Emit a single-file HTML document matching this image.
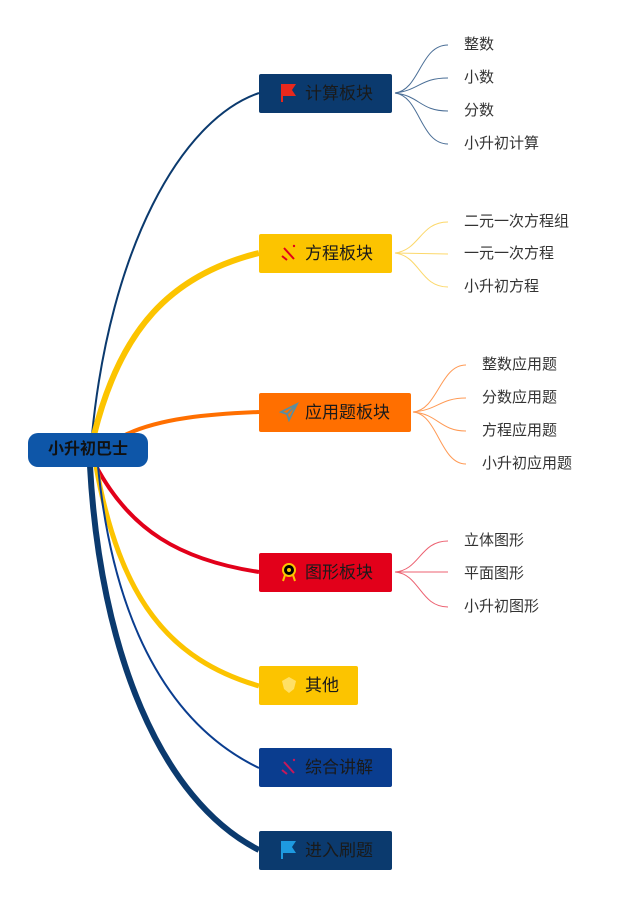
<!DOCTYPE html><html><head><meta charset="utf-8"><style>
body{margin:0;width:640px;height:898px;background:#fff;position:relative;overflow:hidden;font-family:"Liberation Sans","Noto Sans CJK SC",sans-serif}
.b{position:absolute;left:259px;height:39px;border-radius:2px;color:#1a1a1a;font-size:17px;line-height:39px;box-sizing:border-box;padding-left:46px}
.t{position:absolute;font-size:15px;color:#333;line-height:18px}
.ic{position:absolute;left:20px;top:9px;width:20px;height:20px}
</style></head><body>
<svg width="640" height="898" style="position:absolute;left:0;top:0" fill="none">
<path d="M92 435 C110 250 180 120 259 93" stroke="#0b3a6e" stroke-width="2"/>
<path d="M94 435 C120 330 170 275 259 253" stroke="#fcc400" stroke-width="6"/>
<path d="M125 435 C160 418 210 414 259 412" stroke="#ff6f00" stroke-width="4"/>
<path d="M96 466 C130 530 180 560 259 572" stroke="#e2001a" stroke-width="4"/>
<path d="M96 466 C120 600 170 660 259 686" stroke="#fcc400" stroke-width="5"/>
<path d="M98 466 C115 640 180 730 259 768" stroke="#0a3d8f" stroke-width="2"/>
<path d="M90 466 C100 650 160 800 259 850" stroke="#0b3a6e" stroke-width="6"/>
<g stroke="#4a6e96" stroke-width="1">
<path d="M395 93 C420 90 420 45 448 45"/><path d="M395 93 C420 90 420 78 448 78"/><path d="M395 93 C420 96 420 111 448 111"/><path d="M395 93 C420 96 420 144 448 144"/></g>
<g stroke="#fcd86a" stroke-width="1">
<path d="M395 253 C420 250 420 222 448 222"/><path d="M395 253 L448 254"/><path d="M395 253 C420 256 420 287 448 287"/></g>
<g stroke="#ff9a55" stroke-width="1">
<path d="M413 412 C438 410 440 365 466 365"/><path d="M413 412 C438 410 440 398 466 398"/><path d="M413 412 C438 414 440 431 466 431"/><path d="M413 412 C438 414 440 464 466 464"/></g>
<g stroke="#ec6070" stroke-width="1">
<path d="M395 572 C420 570 420 541 448 541"/><path d="M395 572 L448 572"/><path d="M395 572 C420 574 420 607 448 607"/></g>
</svg>
<div style="position:absolute;left:28px;top:433px;width:120px;height:34px;background:#0e56a8;border-radius:10px;font-size:16px;font-weight:bold;color:#111;text-align:center;line-height:34px">小升初巴士</div>
<div class="b" style="top:74px;width:133px;background:#0b3a6e"><svg class="ic" viewBox="0 0 20 20"><path d="M2 1 H17 L13 7 L17 13 H4 V19 H2Z" fill="#e8281c"/></svg>计算板块</div>
<div class="b" style="top:234px;width:133px;background:#fcc400"><svg class="ic" viewBox="0 0 20 20"><path d="M5 5 L15 16 M3 13 L8 17" stroke="#e2001a" stroke-width="2"/><circle cx="15" cy="3" r="1.2" fill="#e2001a"/></svg>方程板块</div>
<div class="b" style="top:393px;width:152px;background:#ff6f00"><svg class="ic" viewBox="0 0 20 20"><path d="M18 2 L2 10 L8 12 L10 18 Z M8 12 L18 2" stroke="#5a8ea0" stroke-width="1.8" fill="none"/></svg>应用题板块</div>
<div class="b" style="top:553px;width:133px;background:#e2001a"><svg class="ic" viewBox="0 0 20 20"><circle cx="10" cy="8" r="6" stroke="#fcc400" stroke-width="2"/><circle cx="10" cy="8" r="2" fill="#fcc400"/><path d="M6 13 L4 19 M14 13 L16 19" stroke="#fcc400" stroke-width="2"/></svg>图形板块</div>
<div class="b" style="top:666px;width:99px;background:#fcc400"><svg class="ic" viewBox="0 0 20 20"><path d="M3 6 L10 2 L17 6 L15 14 L10 18 L5 14Z" fill="#ffe066"/></svg>其他</div>
<div class="b" style="top:748px;width:133px;background:#0a3d8f"><svg class="ic" viewBox="0 0 20 20"><path d="M5 5 L15 16 M3 13 L8 17" stroke="#c8185a" stroke-width="2"/><circle cx="15" cy="3" r="1.2" fill="#c8185a"/></svg>综合讲解</div>
<div class="b" style="top:831px;width:133px;background:#0b3a6e"><svg class="ic" viewBox="0 0 20 20"><path d="M2 1 H17 L13 7 L17 13 H4 V19 H2Z" fill="#1e9ae0"/></svg>进入刷题</div>
<div class="t" style="left:464px;top:36px">整数</div>
<div class="t" style="left:464px;top:69px">小数</div>
<div class="t" style="left:464px;top:102px">分数</div>
<div class="t" style="left:464px;top:135px">小升初计算</div>
<div class="t" style="left:464px;top:213px">二元一次方程组</div>
<div class="t" style="left:464px;top:245px">一元一次方程</div>
<div class="t" style="left:464px;top:278px">小升初方程</div>
<div class="t" style="left:482px;top:356px">整数应用题</div>
<div class="t" style="left:482px;top:389px">分数应用题</div>
<div class="t" style="left:482px;top:422px">方程应用题</div>
<div class="t" style="left:482px;top:455px">小升初应用题</div>
<div class="t" style="left:464px;top:532px">立体图形</div>
<div class="t" style="left:464px;top:565px">平面图形</div>
<div class="t" style="left:464px;top:598px">小升初图形</div>
</body></html>
